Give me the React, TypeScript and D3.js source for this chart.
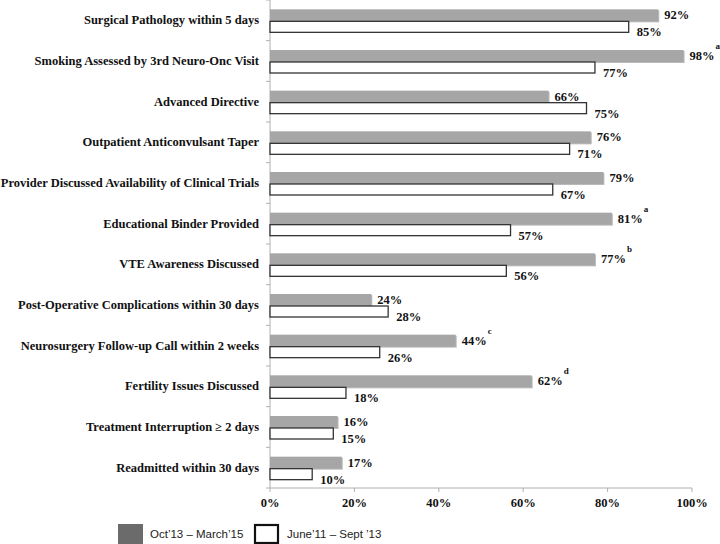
import React from 'react';
import * as d3 from 'd3';

const categories = [
  'Surgical Pathology within 5 days',
  'Smoking Assessed by 3rd Neuro-Onc Visit',
  'Advanced Directive',
  'Outpatient Anticonvulsant Taper',
  'Provider Discussed Availability of Clinical Trials',
  'Educational Binder Provided',
  'VTE Awareness Discussed',
  'Post-Operative Complications within 30 days',
  'Neurosurgery Follow-up Call within 2 weeks',
  'Fertility Issues Discussed',
  'Treatment Interruption \u2265 2 days',
  'Readmitted within 30 days',
];
const recent = [92, 98, 66, 76, 79, 81, 77, 24, 44, 62, 16, 17];
const earlier = [85, 77, 75, 71, 67, 57, 56, 28, 26, 18, 15, 10];
const notes = ['', 'a', '', '', '', 'a', 'b', '', 'c', 'd', '', ''];
const ticks = [0, 20, 40, 60, 80, 100];
const legendLabels = ['Oct\u201913 \u2013 March\u201915', 'June\u201911 \u2013 Sept \u201913'];

const W = 720, H = 544;
const x0 = 270, x1 = 692, yTop = 0, yBot = 488;

export default function App() {
  const x = d3.scaleLinear().domain([0, 100]).range([x0, x1]);
  const y = d3.scaleBand<string>().domain(categories).range([yTop, yBot]);
  const bw = y.bandwidth();
  const serif = '"Liberation Serif", "Times New Roman", serif';
  const sans = '"Liberation Sans", Arial, sans-serif';
  const axisColor = '#b0b0b0';
  return (
    <svg width={W} height={H} style={{ position: 'absolute', left: 0, top: 0, background: '#fff' }}>
      <line x1={x0} x2={x0} y1={yTop} y2={yBot} stroke={axisColor} strokeWidth={1} />
      {d3.range(categories.length + 1).map(i => (
        <line key={'yt' + i} x1={x0 - 4} x2={x0} y1={yTop + i * bw} y2={yTop + i * bw} stroke={axisColor} />
      ))}
      <line x1={x0} x2={x1} y1={yBot} y2={yBot} stroke={axisColor} strokeWidth={1} />
      {ticks.map(t => (
        <g key={'xt' + t}>
          <line x1={x(t)} x2={x(t)} y1={yBot} y2={yBot + 4} stroke={axisColor} />
          <text x={x(t)} y={yBot + 19} textAnchor="middle" fontFamily={serif} fontWeight="bold" fontSize={12.5} fill="#111">
            {t}%
          </text>
        </g>
      ))}
      {categories.map((c, i) => {
        const cy = (y(c) as number) + bw / 2;
        const gx = x(recent[i]);
        const wx = x(earlier[i]);
        return (
          <g key={c}>
            <text x={259} y={cy + 4} textAnchor="end" fontFamily={serif} fontWeight="bold" fontSize={12.5} fill="#111">
              {c}
            </text>
            <rect x={x0 + 1} y={cy - 10} width={gx - x0} height={12} fill="#8c8c8c" opacity={0.6} />
            <rect x={x0} y={cy - 11} width={gx - x0} height={12} fill="#a6a6a6" />
            <rect x={x0} y={cy + 1} width={wx - x0} height={11} fill="#fff" stroke="#333" strokeWidth={1.3} />
            <text x={gx + 6} y={cy - 1} fontFamily={serif} fontWeight="bold" fontSize={12.5} fill="#111">
              {recent[i]}%
              {notes[i] && (
                <tspan dx={1} dy={-11} fontSize={9}>{notes[i]}</tspan>
              )}
            </text>
            <text x={wx + 8} y={cy + 16} fontFamily={serif} fontWeight="bold" fontSize={12.5} fill="#111">
              {earlier[i]}%
            </text>
          </g>
        );
      })}
      <rect x={118} y={524} width={25} height={20} fill="#6b6b6b" />
      <text x={150} y={538} fontFamily={sans} fontSize={11.5} fill="#222">{legendLabels[0]}</text>
      <rect x={255} y={525} width={23} height={18} fill="#fff" stroke="#111" strokeWidth={2.2} />
      <text x={287} y={538} fontFamily={sans} fontSize={11.5} fill="#222">{legendLabels[1]}</text>
    </svg>
  );
}
